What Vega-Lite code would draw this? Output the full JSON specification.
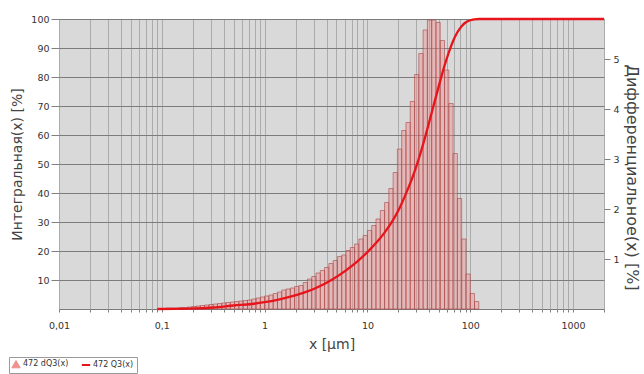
{
  "$schema": "https://vega.github.io/schema/vega-lite/v6.json",
  "width": 545,
  "height": 290,
  "autosize": {"type": "none"},
  "padding": {"left": 59, "top": 19, "right": 40, "bottom": 65},
  "background": "white",
  "config": {
    "view": {"fill": "#d9d9d9", "stroke": "#7a7a7a", "strokeWidth": 1},
    "font": "DejaVu Sans",
    "axis": {
      "labelFont": "DejaVu Sans",
      "labelFontSize": 9.5,
      "labelColor": "#333333",
      "titleFont": "DejaVu Sans",
      "titleFontWeight": "normal",
      "titleFontSize": 14,
      "titleColor": "#444444",
      "domain": false,
      "tickColor": "#808080"
    },
    "legend": {
      "orient": "none",
      "legendX": -50,
      "legendY": 338,
      "direction": "horizontal",
      "labelFont": "DejaVu Sans",
      "labelFontSize": 8,
      "labelColor": "#333333",
      "strokeColor": "#9a9a9a",
      "fillColor": "white",
      "padding": 3,
      "symbolSize": 70,
      "columnPadding": 8,
      "labelOffset": 3
    }
  },
  "datasets": {
    "bars": [
      {"x0": 0.090852, "x1": 0.1, "dQ3": 0.01},
      {"x0": 0.1, "x1": 0.11007, "dQ3": 0.01},
      {"x0": 0.11007, "x1": 0.12115, "dQ3": 0.02},
      {"x0": 0.12115, "x1": 0.13335, "dQ3": 0.02},
      {"x0": 0.13335, "x1": 0.14678, "dQ3": 0.02},
      {"x0": 0.14678, "x1": 0.16156, "dQ3": 0.03},
      {"x0": 0.16156, "x1": 0.17783, "dQ3": 0.03},
      {"x0": 0.17783, "x1": 0.19573, "dQ3": 0.04},
      {"x0": 0.19573, "x1": 0.21544, "dQ3": 0.05},
      {"x0": 0.21544, "x1": 0.23714, "dQ3": 0.06},
      {"x0": 0.23714, "x1": 0.26102, "dQ3": 0.07},
      {"x0": 0.26102, "x1": 0.2873, "dQ3": 0.08},
      {"x0": 0.2873, "x1": 0.31623, "dQ3": 0.09},
      {"x0": 0.31623, "x1": 0.34807, "dQ3": 0.1},
      {"x0": 0.34807, "x1": 0.38312, "dQ3": 0.11},
      {"x0": 0.38312, "x1": 0.4217, "dQ3": 0.12},
      {"x0": 0.4217, "x1": 0.46416, "dQ3": 0.13},
      {"x0": 0.46416, "x1": 0.5109, "dQ3": 0.14},
      {"x0": 0.5109, "x1": 0.56234, "dQ3": 0.15},
      {"x0": 0.56234, "x1": 0.61897, "dQ3": 0.16},
      {"x0": 0.61897, "x1": 0.68129, "dQ3": 0.17},
      {"x0": 0.68129, "x1": 0.74989, "dQ3": 0.18},
      {"x0": 0.74989, "x1": 0.8254, "dQ3": 0.2},
      {"x0": 0.8254, "x1": 0.90852, "dQ3": 0.22},
      {"x0": 0.90852, "x1": 1, "dQ3": 0.24},
      {"x0": 1, "x1": 1.1007, "dQ3": 0.26},
      {"x0": 1.1007, "x1": 1.2115, "dQ3": 0.28},
      {"x0": 1.2115, "x1": 1.3335, "dQ3": 0.31},
      {"x0": 1.3335, "x1": 1.4678, "dQ3": 0.34},
      {"x0": 1.4678, "x1": 1.6156, "dQ3": 0.38},
      {"x0": 1.6156, "x1": 1.7783, "dQ3": 0.4},
      {"x0": 1.7783, "x1": 1.9573, "dQ3": 0.42},
      {"x0": 1.9573, "x1": 2.1544, "dQ3": 0.45},
      {"x0": 2.1544, "x1": 2.3714, "dQ3": 0.47},
      {"x0": 2.3714, "x1": 2.6102, "dQ3": 0.53},
      {"x0": 2.6102, "x1": 2.873, "dQ3": 0.6},
      {"x0": 2.873, "x1": 3.1623, "dQ3": 0.65},
      {"x0": 3.1623, "x1": 3.4807, "dQ3": 0.72},
      {"x0": 3.4807, "x1": 3.8312, "dQ3": 0.77},
      {"x0": 3.8312, "x1": 4.217, "dQ3": 0.83},
      {"x0": 4.217, "x1": 4.6416, "dQ3": 0.91},
      {"x0": 4.6416, "x1": 5.109, "dQ3": 0.97},
      {"x0": 5.109, "x1": 5.6234, "dQ3": 1.05},
      {"x0": 5.6234, "x1": 6.1897, "dQ3": 1.08},
      {"x0": 6.1897, "x1": 6.8129, "dQ3": 1.17},
      {"x0": 6.8129, "x1": 7.4989, "dQ3": 1.23},
      {"x0": 7.4989, "x1": 8.254, "dQ3": 1.3},
      {"x0": 8.254, "x1": 9.0852, "dQ3": 1.4},
      {"x0": 9.0852, "x1": 10, "dQ3": 1.47},
      {"x0": 10, "x1": 11.007, "dQ3": 1.57},
      {"x0": 11.007, "x1": 12.115, "dQ3": 1.67},
      {"x0": 12.115, "x1": 13.335, "dQ3": 1.8},
      {"x0": 13.335, "x1": 14.678, "dQ3": 1.97},
      {"x0": 14.678, "x1": 16.156, "dQ3": 2.13},
      {"x0": 16.156, "x1": 17.783, "dQ3": 2.41},
      {"x0": 17.783, "x1": 19.573, "dQ3": 2.73},
      {"x0": 19.573, "x1": 21.544, "dQ3": 3.2},
      {"x0": 21.544, "x1": 23.714, "dQ3": 3.57},
      {"x0": 23.714, "x1": 26.102, "dQ3": 3.73},
      {"x0": 26.102, "x1": 28.73, "dQ3": 4.15},
      {"x0": 28.73, "x1": 31.623, "dQ3": 4.69},
      {"x0": 31.623, "x1": 34.807, "dQ3": 5.11},
      {"x0": 34.807, "x1": 38.312, "dQ3": 5.58},
      {"x0": 38.312, "x1": 42.17, "dQ3": 5.78},
      {"x0": 42.17, "x1": 46.416, "dQ3": 5.78},
      {"x0": 46.416, "x1": 51.09, "dQ3": 5.73},
      {"x0": 51.09, "x1": 56.234, "dQ3": 5.37},
      {"x0": 56.234, "x1": 61.897, "dQ3": 4.78},
      {"x0": 61.897, "x1": 68.129, "dQ3": 4.11},
      {"x0": 68.129, "x1": 74.989, "dQ3": 3.11},
      {"x0": 74.989, "x1": 82.54, "dQ3": 2.21},
      {"x0": 82.54, "x1": 90.852, "dQ3": 1.4},
      {"x0": 90.852, "x1": 100, "dQ3": 0.7},
      {"x0": 100, "x1": 110.07, "dQ3": 0.31},
      {"x0": 110.07, "x1": 121.15, "dQ3": 0.15}
    ],
    "cum": [
      {"x": 0.090852, "Q3": 0},
      {"x": 0.13335, "Q3": 0.06},
      {"x": 0.21544, "Q3": 0.22},
      {"x": 0.31623, "Q3": 0.51},
      {"x": 0.5, "Q3": 1.2},
      {"x": 0.74989, "Q3": 1.72},
      {"x": 1, "Q3": 2.35},
      {"x": 1.3335, "Q3": 3.17},
      {"x": 1.7783, "Q3": 4.24},
      {"x": 2.3714, "Q3": 5.53},
      {"x": 3.1623, "Q3": 7.24},
      {"x": 4.6416, "Q3": 10.34},
      {"x": 6.1897, "Q3": 13.31},
      {"x": 8.254, "Q3": 16.87},
      {"x": 10, "Q3": 19.62},
      {"x": 12.115, "Q3": 22.73},
      {"x": 14.678, "Q3": 26.35},
      {"x": 17.783, "Q3": 30.71},
      {"x": 19.573, "Q3": 33.33},
      {"x": 21.544, "Q3": 36.4},
      {"x": 23.714, "Q3": 39.83},
      {"x": 26.102, "Q3": 43.41},
      {"x": 28.73, "Q3": 47.39},
      {"x": 31.623, "Q3": 51.89},
      {"x": 34.807, "Q3": 56.8},
      {"x": 38.312, "Q3": 62.15},
      {"x": 42.17, "Q3": 67.7},
      {"x": 46.416, "Q3": 73.25},
      {"x": 51.09, "Q3": 78.75},
      {"x": 56.234, "Q3": 83.9},
      {"x": 61.897, "Q3": 88.49},
      {"x": 68.129, "Q3": 92.44},
      {"x": 74.989, "Q3": 95.42},
      {"x": 82.54, "Q3": 97.54},
      {"x": 90.852, "Q3": 98.88},
      {"x": 100, "Q3": 99.56},
      {"x": 110.07, "Q3": 99.86},
      {"x": 121.15, "Q3": 100},
      {"x": 2000, "Q3": 100}
    ]
  },
  "layer": [
    {
      "data": {"name": "bars"},
      "mark": {"type": "rect", "fillOpacity": 0.45, "stroke": "#a84444", "strokeWidth": 0.7, "strokeOpacity": 0.85},
      "encoding": {
        "x": {
          "field": "x0",
          "type": "quantitative",
          "title": "x [µm]",
          "scale": {"type": "log", "domain": [0.01, 2000], "nice": false},
          "axis": {
            "values": [0.01, 0.02, 0.03, 0.04, 0.05, 0.06, 0.07, 0.08, 0.09, 0.1, 0.2, 0.3, 0.4, 0.5, 0.6, 0.7, 0.8, 0.9, 1, 2, 3, 4, 5, 6, 7, 8, 9, 10, 20, 30, 40, 50, 60, 70, 80, 90, 100, 200, 300, 400, 500, 600, 700, 800, 900, 1000, 2000],
            "labelExpr": "datum.value == 0.01 ? '0,01' : datum.value == 0.1 ? '0,1' : (datum.value == 1 || datum.value == 10 || datum.value == 100 || datum.value == 1000) ? format(datum.value, 'd') : ''",
            "labelOverlap": false,
            "labelFlush": false,
            "grid": true,
            "gridColor": "#ababab",
            "gridWidth": 1,
            "tickSize": 3,
            "labelPadding": 8,
            "titlePadding": 8
          }
        },
        "x2": {"field": "x1"},
        "y": {
          "field": "dQ3",
          "type": "quantitative",
          "title": "Дифференциальное(x) [%]",
          "scale": {"domain": [0, 5.8], "nice": false},
          "axis": {
            "orient": "right",
            "values": [1, 2, 3, 4, 5],
            "grid": false,
            "tickSize": 6,
            "labelPadding": 3,
            "titlePadding": 4,
            "titleFontSize": 16,
            "titleY": 158
          }
        },
        "y2": {"datum": 0},
        "color": {
          "datum": "472 dQ3(x)",
          "type": "nominal",
          "scale": {"domain": ["472 dQ3(x)", "472 Q3(x)"], "range": ["#f09090", "#e8141c"]},
          "legend": {
            "title": null,
            "encode": {
              "symbols": {
                "update": {
                  "shape": {"signal": "datum.label === '472 Q3(x)' ? 'stroke' : 'triangle-up'"},
                  "fill": {"signal": "datum.label === '472 Q3(x)' ? 'transparent' : '#f2c4c4'"},
                  "fillOpacity": {"value": 1},
                  "stroke": {"signal": "datum.label === '472 Q3(x)' ? '#e8141c' : '#d07070'"},
                  "strokeWidth": {"signal": "datum.label === '472 Q3(x)' ? 2 : 1"}
                }
              }
            }
          }
        }
      }
    },
    {
      "data": {"name": "cum"},
      "mark": {"type": "line", "strokeWidth": 2.3, "interpolate": "monotone"},
      "encoding": {
        "x": {"field": "x", "type": "quantitative", "title": "x [µm]"},
        "y": {
          "field": "Q3",
          "type": "quantitative",
          "title": "Интегральная(x) [%]",
          "scale": {"domain": [0, 100], "nice": false},
          "axis": {
            "orient": "left",
            "values": [10, 20, 30, 40, 50, 60, 70, 80, 90, 100],
            "grid": true,
            "gridColor": "#7c7c7c",
            "gridWidth": 1,
            "tickSize": 8,
            "labelPadding": 2,
            "titlePadding": 6
          }
        },
        "color": {
          "datum": "472 Q3(x)",
          "type": "nominal",
          "legend": {
            "title": null,
            "encode": {
              "symbols": {
                "update": {
                  "shape": {"signal": "datum.label === '472 Q3(x)' ? 'stroke' : 'triangle-up'"},
                  "fill": {"signal": "datum.label === '472 Q3(x)' ? 'transparent' : '#f2c4c4'"},
                  "fillOpacity": {"value": 1},
                  "stroke": {"signal": "datum.label === '472 Q3(x)' ? '#e8141c' : '#d07070'"},
                  "strokeWidth": {"signal": "datum.label === '472 Q3(x)' ? 2 : 1"}
                }
              }
            }
          }
        }
      }
    }
  ],
  "resolve": {"scale": {"y": "independent"}}
}
